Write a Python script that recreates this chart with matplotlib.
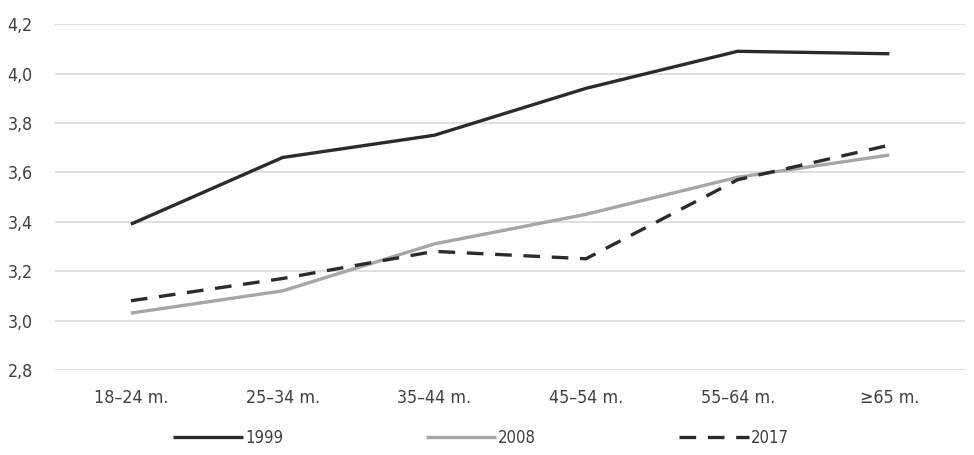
import matplotlib
matplotlib.use("Agg")
import matplotlib.pyplot as plt

categories = ["18–24 m.", "25–34 m.", "35–44 m.", "45–54 m.", "55–64 m.", "≥65 m."]
y1999 = [3.39, 3.66, 3.75, 3.94, 4.09, 4.08]
y2008 = [3.03, 3.12, 3.31, 3.43, 3.58, 3.67]
y2017 = [3.08, 3.17, 3.28, 3.25, 3.57, 3.71]
yticks = [2.8, 3.0, 3.2, 3.4, 3.6, 3.8, 4.0, 4.2]
ytick_labels = ["2,8", "3,0", "3,2", "3,4", "3,6", "3,8", "4,0", "4,2"]

plt.rcParams['font.family'] = ['DejaVu Sans']
plt.rcParams['font.stretch'] = 'condensed'

fig = plt.figure(figsize=(9.74, 4.55), dpi=100)
ax = fig.add_axes([0.0565, 0.187, 0.9345, 0.76])

x = list(range(len(categories)))
l1, = ax.plot(x, y1999, color="#2b2b2b", lw=2.4, label="1999", solid_capstyle="butt")
l2, = ax.plot(x, y2008, color="#a6a6a6", lw=2.4, label="2008", solid_capstyle="butt")
l3, = ax.plot(x, y2017, color="#2b2b2b", lw=2.4, ls=(0, (5, 3.5)), label="2017")

ax.set_xlim(-0.5, 5.5)
ax.set_ylim(2.8, 4.2)
ax.set_yticks(yticks)
ax.set_yticklabels(ytick_labels)
ax.set_xticks(x)
ax.set_xticklabels(categories)
ax.grid(axis="y", color="#d9d9d9", lw=1.2)
ax.set_axisbelow(True)
for s in ax.spines.values():
    s.set_visible(False)
ax.tick_params(length=0, labelsize=12.8, colors="#404040", pad=14)
ax.tick_params(axis="y", pad=16)

fig.legend(handles=[l1, l2, l3], loc="lower center", bbox_to_anchor=(0.494, -0.016), ncol=3,
           frameon=False, handlelength=4.2, handletextpad=0.1, columnspacing=8.6,
           fontsize=12, labelcolor="#404040")

fig.savefig("out.png", dpi=100)
